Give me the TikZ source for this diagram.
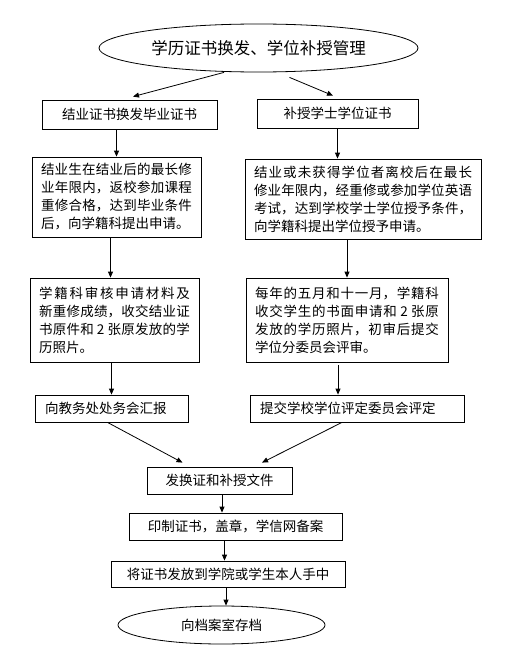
\documentclass[tikz,border=0pt]{standalone}
\usepackage{fontspec}
\setmainfont{Noto Sans CJK SC}
\usepackage{tikz}
\usetikzlibrary{shapes.geometric, arrows.meta}
\XeTeXlinebreaklocale "zh"
\XeTeXlinebreakskip=0pt plus 3pt
\tolerance=9000
\setlength{\parindent}{0pt}
\newcommand{\bodyfont}{\fontsize{13.5}{18}\selectfont}
\newcommand{\titlefont}{\fontsize{16.5}{20}\selectfont}

\begin{document}
\begin{tikzpicture}[
    x=1pt, y=-1pt,
    box/.style={rectangle, draw=black, line width=0.8pt, inner sep=0pt,
                font=\bodyfont, align=center},
    para/.style={box, align=justify, inner xsep=9pt},
    lbox/.style={box, align=left, inner xsep=10pt},
    oval/.style={ellipse, draw=black, line width=0.8pt, inner sep=0pt},
    arr/.style={-{Triangle[length=6pt, width=5pt]}, line width=0.8pt}
]
\useasboundingbox (0,0) rectangle (516,661);
\node[oval, minimum width=319pt, minimum height=48pt, font=\titlefont] (mgmt) at (258.5,48) {学历证书换发、学位补授管理};
\node[box, minimum width=175pt, minimum height=29pt] (grad) at (129.5,114.5) {结业证书换发毕业证书};
\node[box, minimum width=161pt, minimum height=29pt] (degree) at (337.5,113.5) {补授学士学位证书};
\node[para, text width=151pt, minimum height=80pt] (gradapply) at (116.5,197) {结业生在结业后的最长修\linebreak 业年限内，返校参加课程\linebreak 重修合格，达到毕业条件\linebreak 后，向学籍科提出申请。};
\node[para, text width=218pt, minimum height=80pt] (degapply) at (363,199) {结业或未获得学位者离校后在最长\linebreak 修业年限内，经重修或参加学位英语\linebreak 考试，达到学校学士学位授予条件，\linebreak 向学籍科提出学位授予申请。};
\node[para, text width=151pt, minimum height=84pt] (gradcheck) at (114.5,320) {学籍科审核申请材料及\linebreak 新重修成绩，收交结业证\linebreak 书原件和 2 张原发放的学\linebreak 历照片。};
\node[para, text width=184pt, minimum height=84pt] (degcheck) at (347,320) {每年的五月和十一月，学籍科\linebreak 收交学生的书面申请和 2 张原\linebreak 发放的学历照片，初审后提交\linebreak 学位分委员会评审。};
\node[lbox, text width=133pt, minimum height=27pt] (report) at (111.5,408.5) {向教务处处务会汇报};
\node[lbox, text width=194pt, minimum height=27pt] (review) at (357,408.5) {提交学校学位评定委员会评定};
\node[box, minimum width=145pt, minimum height=27pt] (docs) at (219.5,480.5) {发换证和补授文件};
\node[box, minimum width=213pt, minimum height=27pt] (print) at (235.5,526.5) {印制证书，盖章，学信网备案};
\node[box, minimum width=234pt, minimum height=26pt] (issue) at (228,574) {将证书发放到学院或学生本人手中};
\node[oval, minimum width=207pt, minimum height=38pt, font=\bodyfont] (archive) at (221.5,625) {向档案室存档};
\draw[arr] ([xshift=-34.5pt]mgmt.south) -- ([xshift=3.5pt,yshift=3pt]grad.north);
\draw[arr] ([xshift=31pt,yshift=-5pt]mgmt.south) -- ([xshift=-4.5pt,yshift=3pt]degree.north);
\draw[arr] (gradapply.north |- grad.south) -- (gradapply.north);
\draw[arr] (degree.south) -- (degree.south |- degapply.north);
\draw[arr] ([xshift=-4pt]gradcheck.north |- gradapply.south) -- ([xshift=-4pt]gradcheck.north);
\draw[arr] (degcheck.north |- degapply.south) -- (degcheck.north);
\draw[arr] (report.north |- gradcheck.south) -- (report.north);
\draw[arr] ([xshift=-9pt,yshift=-3pt]degcheck.south) -- ([xshift=-9pt]degcheck.south |- review.north);
\draw[arr] ([xshift=-4pt]report.south) -- ([xshift=-37pt,yshift=4pt]docs.north);
\draw[arr] ([xshift=-15pt]review.south) -- ([xshift=42.5pt,yshift=4pt]docs.north);
\draw[arr] ([xshift=2.5pt]docs.south) -- ([xshift=2.5pt]docs.south |- print.north);
\draw[arr] ([xshift=-3.5pt]issue.north |- print.south) -- ([xshift=-3.5pt]issue.north);
\draw[arr] ([xshift=-2pt]issue.south) -- ([xshift=-2pt]issue.south |- archive.north);
\end{tikzpicture}
\end{document}
